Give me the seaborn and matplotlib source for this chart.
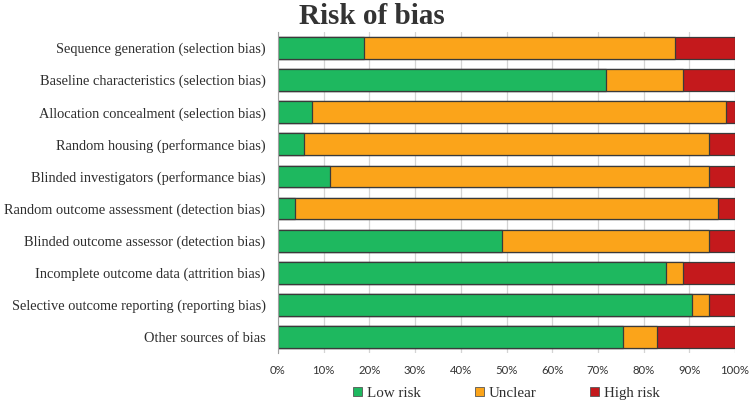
import numpy as np
import pandas as pd
import matplotlib
matplotlib.use("Agg")
import matplotlib.pyplot as plt
import seaborn as sns
from matplotlib.patches import Patch
from matplotlib.ticker import PercentFormatter

# risk of bias domains (top to bottom)
domains = [
    "Sequence generation (selection bias)",
    "Baseline characteristics (selection bias)",
    "Allocation concealment (selection bias)",
    "Random housing (performance bias)",
    "Blinded investigators (performance bias)",
    "Random outcome assessment (detection bias)",
    "Blinded outcome assessor (detection bias)",
    "Incomplete outcome data (attrition bias)",
    "Selective outcome reporting (reporting bias)",
    "Other sources of bias",
]
# percentage of studies per judgement
low_risk = [18.9, 71.7, 7.5, 5.7, 11.3, 3.8, 49.1, 84.9, 90.6, 75.5]
unclear = [67.9, 17.0, 90.6, 88.7, 83.0, 92.5, 45.3, 3.8, 3.8, 7.5]
high_risk = [13.2, 11.3, 1.9, 5.7, 5.7, 3.8, 5.7, 11.3, 5.6, 17.0]

c_low = "#1eb85f"
c_unc = "#fba41a"
c_high = "#c4191c"

df = pd.DataFrame({"domain": domains, "low": low_risk,
                   "unclear": unclear, "high": high_risk})
df["cum_unc"] = df["low"] + df["unclear"]
df["cum_high"] = df["cum_unc"] + df["high"]

sns.set_style("white")
fig = plt.figure(figsize=(7.49, 4.04), dpi=100)
ax = fig.add_axes([278 / 749, 1 - 353 / 404, 457 / 749, 321 / 404])

# stacked look: draw cumulative totals back to front
for col, colr in [("cum_high", c_high), ("cum_unc", c_unc), ("low", c_low)]:
    sns.barplot(data=df, x=col, y="domain", orient="h", color=colr,
                width=0.68, edgecolor="#3a3a3a", linewidth=0.9,
                saturation=1, ax=ax, zorder=2)

ax.set_xlim(0, 100)
ax.set_ylim(9.5, -0.5)
ax.set_xticks(np.arange(0, 101, 10))
ax.xaxis.set_major_formatter(PercentFormatter(decimals=0))
ax.grid(axis="x", color="#d4d4d4", linewidth=0.9, zorder=0)
ax.set_axisbelow(True)
ax.set_xlabel("")
ax.set_ylabel("")
for s in ["top", "right", "bottom"]:
    ax.spines[s].set_visible(False)
ax.spines["left"].set_color("#a0a0a0")
ax.tick_params(axis="x", length=0, pad=9)
ax.tick_params(axis="y", length=0, pad=9)
for t in ax.get_xticklabels():
    t.set_family(["Lato", "DejaVu Sans"])
    t.set_fontsize(8.2)
    t.set_color("#333333")
for t in ax.get_yticklabels():
    t.set_family(["Liberation Serif", "DejaVu Serif"])
    t.set_fontsize(10.4)
    t.set_color("#2e2e2e")

fig.text(0.497, 0.958, "Risk of bias", ha="center", va="center",
         fontsize=21, fontweight="bold", color="#333333",
         family=["Liberation Serif", "DejaVu Serif"])

handles = [Patch(facecolor=c, edgecolor="#555555", linewidth=0.6, label=l)
           for c, l in [(c_low, "Low risk"), (c_unc, "Unclear"), (c_high, "High risk")]]
leg = ax.legend(handles=handles, loc="center", bbox_to_anchor=(0.5, -0.125),
                ncol=3, frameon=False, handlelength=0.6, handleheight=0.6,
                handletextpad=0.3, columnspacing=3.6,
                prop={"family": "Liberation Serif", "size": 10.8})
for t in leg.get_texts():
    t.set_color("#2e2e2e")

fig.savefig("out.png", dpi=100)
